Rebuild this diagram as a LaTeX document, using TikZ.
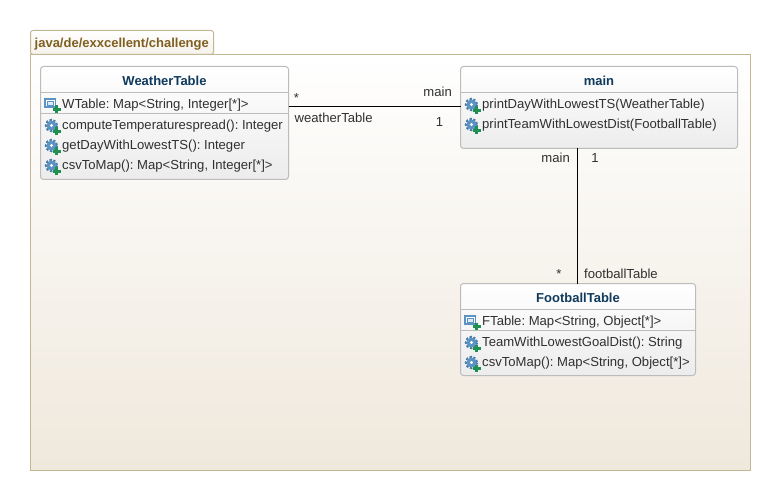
\documentclass[tikz,border=0pt]{standalone}
\usepackage{fontspec}
\setmainfont{Liberation Sans}
\usepackage{tikz}
\usetikzlibrary{positioning}
\definecolor{pkgline}{HTML}{C2B695}
\definecolor{pkgtext}{HTML}{7F5F20}
\definecolor{pkgfill}{HTML}{EFE8DC}
\definecolor{classline}{HTML}{BCBCBC}
\definecolor{classname}{HTML}{0F3A5C}
\definecolor{classfill}{HTML}{ECECEC}
\definecolor{iconblue}{HTML}{5A93C4}
\definecolor{icongreen}{HTML}{1E9050}
\definecolor{textgray}{HTML}{303030}
\tikzset{
  pkgtab/.style={draw=pkgline,line width=1pt,rounded corners=2.5pt,top color=white,bottom color=pkgfill!60,anchor=north west,inner sep=0pt,outer sep=0pt,minimum width=183,minimum height=24},
  pkgbody/.style={draw=pkgline,line width=1pt,top color=white,bottom color=pkgfill,anchor=north west,inner sep=0pt,outer sep=0pt,minimum width=720,minimum height=416},
  classbox/.style={draw=classline,line width=1pt,rounded corners=3pt,top color=white,bottom color=classfill,anchor=north west,inner sep=0pt,outer sep=0pt},
  classtitle/.style={font=\fontsize{13}{15}\selectfont\bfseries,text=classname,inner sep=0pt},
  member/.style={font=\fontsize{13.1}{15}\selectfont\frenchspacing,text=textgray,anchor=base west,inner sep=0pt},
  endlabel/.style={font=\fontsize{13.1}{15}\selectfont,text=textgray,anchor=base,inner sep=0pt},
  divider/.style={classline,line width=1pt},
  assoc/.style={black,line width=1pt},
  pics/attricon/.style={code={
    \draw[iconblue,fill=white,line width=1.1pt] (-7,-5) rectangle (3.5,3);
    \draw[iconblue,fill=iconblue!20,line width=0.8pt] (-5,-3) rectangle (1.5,1);
    \draw[icongreen,line width=2.6pt] (4.7,1.5) -- (4.7,9) (1,5.3) -- (8.5,5.3);
  }},
  pics/opicon/.style={code={
    \draw[iconblue!85!black,line width=2.6pt,dash pattern=on 2.2pt off 1.6pt] (-0.5,0.5) circle (5.4);
    \fill[iconblue] (-0.5,0.5) circle (5);
    \fill[white] (-0.5,0.5) circle (1.7);
    \draw[icongreen,line width=2.6pt] (4.7,2.5) -- (4.7,10) (1,6.3) -- (8.5,6.3);
  }}
}
\begin{document}
\begin{tikzpicture}[x=1pt,y=-1pt]
  \useasboundingbox (0,0) rectangle (780,500);
  \node[pkgtab] (pkgname) at (30.5,30.5) {};
  \node[pkgbody] (pkg) at (30.5,54.5) {};
  \node[font=\fontsize{13}{15}\selectfont\bfseries,text=pkgtext,anchor=base west,inner sep=0pt] (pkglabel) at (34.5,48) {java/de/exxcellent/challenge};

  \node[classbox,minimum width=248,minimum height=113] (weathertable) at (40.5,66.5) {};
  \node[classbox,minimum width=277,minimum height=82] (main) at (460.5,66.5) {};
  \node[classbox,minimum width=235,minimum height=92] (footballtable) at (460.5,283.5) {};

  \draw[divider] (40.5,92.5) -- (288.5,92.5);
  \draw[divider] (40.5,113.5) -- (288.5,113.5);
  \draw[divider] (460.5,92.5) -- (737.5,92.5);
  \draw[divider] (460.5,309.5) -- (695.5,309.5);
  \draw[divider] (460.5,330.5) -- (695.5,330.5);

  \node[classtitle] (weathername) at (164.5,81) {WeatherTable};
  \node[classtitle] (mainname) at (599,81) {main};
  \node[classtitle] (footballname) at (578,298) {FootballTable};

  \pic at (52,104) {attricon};
  \node[member] (wtable) at (62,108.5) {WTable: Map<String, Integer[*]>};
  \pic at (52,125) {opicon};
  \node[member] (compute) at (62,130) {computeTemperaturespread(): Integer};
  \pic at (52,145) {opicon};
  \node[member] (getday) at (62,150) {getDayWithLowestTS(): Integer};
  \pic at (52,165) {opicon};
  \node[member] (wcsv) at (62,170) {csvToMap(): Map<String, Integer[*]>};

  \pic at (472,104) {opicon};
  \node[member] (printday) at (482,109) {printDayWithLowestTS(WeatherTable)};
  \pic at (472,124) {opicon};
  \node[member] (printteam) at (482,129) {printTeamWithLowestDist(FootballTable)};

  \pic at (472,321) {attricon};
  \node[member] (ftable) at (482,325.5) {FTable: Map<String, Object[*]>};
  \pic at (472,342) {opicon};
  \node[member] (teamwith) at (482,346.5) {TeamWithLowestGoalDist(): String};
  \pic at (472,362) {opicon};
  \node[member] (fcsv) at (482,366.5) {csvToMap(): Map<String, Object[*]>};

  \draw[assoc] (weathertable.east |- main.west) ++(0,-1) coordinate (wtend) -- (wtend -| main.west);
  \draw[assoc] ([xshift=-0.5]footballtable.north) coordinate (ftend) -- (ftend |- main.south);

  \node[endlabel] (wtstar) at (296.5,102.5) {*};
  \node[endlabel,anchor=base west] (wtrole) at (294.5,122.5) {weatherTable};
  \node[endlabel,anchor=base east] (mainrole) at (452,96.5) {main};
  \node[endlabel] (wtone) at (439.5,126.5) {1};
  \node[endlabel,anchor=base east] (mainrole2) at (570,162.5) {main};
  \node[endlabel] (ftone) at (595,162.5) {1};
  \node[endlabel] (ftstar) at (559,278) {*};
  \node[endlabel,anchor=base west] (ftrole) at (584,278) {footballTable};
\end{tikzpicture}
\end{document}
